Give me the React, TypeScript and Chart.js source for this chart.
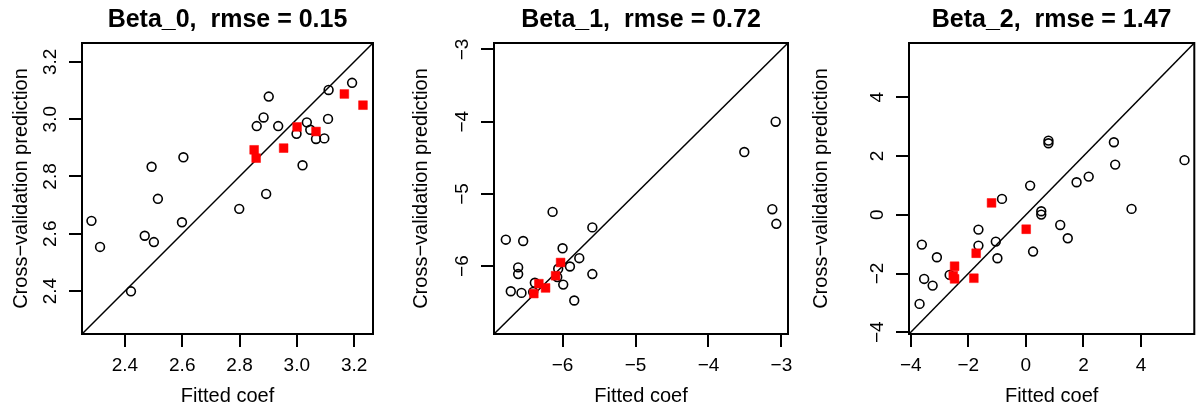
import React, { useEffect, useRef } from "react";
import { Chart, registerables } from "chart.js";
Chart.register(...registerables);

const FONT = '"Liberation Sans", Arial, Helvetica, sans-serif';

// ---------- Panel 1: Beta_0 ----------
const b0Title = "Beta_0,  rmse = 0.15";
const b0Limits = [2.25, 3.266];
const b0Ticks = [2.4, 2.6, 2.8, 3.0, 3.2];
const b0CircleFitted = [2.283, 2.313, 2.421, 2.469, 2.501, 2.493, 2.515, 2.599, 2.604, 2.799, 2.893, 2.86, 2.884, 2.902, 2.935, 2.999, 3.02, 3.035, 3.047, 3.067, 3.096, 3.109, 3.111, 3.193];
const b0CircleCv = [2.645, 2.554, 2.399, 2.593, 2.571, 2.834, 2.722, 2.64, 2.867, 2.687, 2.739, 2.976, 3.006, 3.079, 2.976, 2.949, 2.839, 2.989, 2.963, 2.931, 2.933, 3.001, 3.102, 3.127];
const b0SquareFitted = [2.851, 2.858, 2.954, 3.001, 3.067, 3.166, 3.231];
const b0SquareCv = [2.893, 2.864, 2.899, 2.973, 2.957, 3.088, 3.049];

// ---------- Panel 2: Beta_1 ----------
const b1Title = "Beta_1,  rmse = 0.72";
const b1Limits = [-6.94, -2.91];
const b1Ticks = [-6, -5, -4, -3];
const b1CircleFitted = [-6.778, -6.54, -6.609, -6.609, -6.71, -6.563, -6.403, -6.38, -6.137, -6.0, -6.06, -6.073, -5.991, -5.899, -5.771, -5.84, -5.592, -5.592, -3.509, -3.079, -3.125, -3.07];
const b1CircleCv = [-5.634, -5.652, -6.018, -6.11, -6.348, -6.371, -6.357, -6.23, -5.249, -5.753, -6.037, -6.151, -6.256, -6.005, -5.89, -6.476, -5.464, -6.11, -4.42, -4.0, -5.212, -5.414];
const b1SquareFitted = [-6.394, -6.325, -6.233, -6.096, -6.027];
const b1SquareCv = [-6.38, -6.243, -6.302, -6.133, -5.95];

// ---------- Panel 3: Beta_2 ----------
const b2Title = "Beta_2,  rmse = 1.47";
const b2Limits = [-4.06, 5.85];
const b2Ticks = [-4, -2, 0, 2, 4];
const b2CircleFitted = [-3.614, -3.534, -3.239, -3.091, -3.693, -2.648, -1.648, -1.648, -1.045, -0.989, -0.83, 0.148, 0.25, 0.534, 0.534, 0.784, 0.784, 1.193, 1.455, 1.761, 2.182, 3.057, 3.102, 3.67, 5.51];
const b2CircleCv = [-1.015, -2.185, -2.412, -1.446, -3.035, -2.048, -0.504, -1.049, -0.913, -1.48, 0.54, 0.994, -1.253, 0.12, 0.007, 2.527, 2.436, -0.347, -0.801, 1.108, 1.301, 2.47, 1.709, 0.2, 1.86];
const b2SquareFitted = [-2.477, -2.523, -2.477, -1.807, -1.727, -1.193, 0.011];
const b2SquareCv = [-1.753, -2.07, -2.184, -2.161, -1.31, 0.404, -0.493];

const xTitle = "Fitted coef";
const yTitle = "Cross\u2212validation prediction";

const fmtDecimal = (v: number) => v.toFixed(1);
const fmtInt = (v: number) => (v < 0 ? "\u2212" + Math.abs(v) : String(v));

const zip = (xs: number[], ys: number[]) => xs.map((x, i) => ({ x, y: ys[i] }));

type PanelProps = {
  title: string;
  limits: number[];
  ticks: number[];
  circleX: number[];
  circleY: number[];
  squareX: number[];
  squareY: number[];
  fmt: (v: number) => string;
  left: number;
  width: number;
  axisWidth: number;
  padRight: number;
  yTickPad: number;
};

function Panel(p: PanelProps) {
  const ref = useRef<HTMLCanvasElement>(null);
  useEffect(() => {
    const canvas = ref.current!;
    const boxFrame = {
      id: "boxFrame",
      afterDraw(chart: any) {
        const c = chart.ctx;
        const a = chart.chartArea;
        c.save();
        c.strokeStyle = "#000000";
        c.lineWidth = 2;
        c.beginPath();
        c.rect(a.left, a.top, a.right - a.left, a.bottom - a.top);
        c.stroke();
        c.restore();
      },
    };
    const chart = new Chart(canvas, {
      type: "scatter",
      data: {
        datasets: [
          {
            data: zip(p.squareX, p.squareY),
            pointStyle: "rect",
            pointRadius: 6.2,
            backgroundColor: "#ff0000",
            borderColor: "#ff0000",
            borderWidth: 0.5,
            order: 0,
          },
          {
            data: zip(p.circleX, p.circleY),
            pointStyle: "circle",
            pointRadius: 4.4,
            backgroundColor: "rgba(0,0,0,0)",
            borderColor: "#000",
            borderWidth: 1.6,
            order: 1,
          },
          {
            data: zip(p.limits, p.limits),
            showLine: true,
            pointRadius: 0,
            borderColor: "#000",
            borderWidth: 1.5,
            order: 2,
          },
        ] as any,
      },
      options: {
        animation: false,
        responsive: false,
        devicePixelRatio: 1,
        events: [],
        layout: { padding: { left: 0, right: p.padRight, top: 0, bottom: 0 } },
        plugins: {
          legend: { display: false },
          tooltip: { enabled: false },
          title: {
            display: true,
            text: p.title,
            color: "#000",
            fullSize: false,
            font: { family: FONT, size: 25, weight: "bold" },
            padding: { top: 5, bottom: 8 },
          },
        },
        scales: {
          x: {
            type: "linear",
            min: p.limits[0],
            max: p.limits[1],
            afterBuildTicks: (s: any) => {
              s.ticks = p.ticks.map((v) => ({ value: v }));
            },
            afterFit: (s: any) => {
              s.height = 76;
            },
            grid: { display: true, drawOnChartArea: false, drawTicks: true, tickLength: 13, color: "#000", lineWidth: 2 },
            border: { display: false },
            ticks: {
              color: "#000",
              font: { family: FONT, size: 19 },
              padding: 7,
              maxRotation: 0,
              autoSkip: false,
              callback: (v: any) => p.fmt(Number(v)),
            },
            title: {
              display: true,
              text: xTitle,
              color: "#000",
              font: { family: FONT, size: 20 },
              padding: { top: 0, bottom: 2 },
            },
          },
          y: {
            type: "linear",
            min: p.limits[0],
            max: p.limits[1],
            afterBuildTicks: (s: any) => {
              s.ticks = p.ticks.map((v) => ({ value: v }));
            },
            afterFit: (s: any) => {
              s.width = p.axisWidth;
            },
            grid: { display: true, drawOnChartArea: false, drawTicks: true, tickLength: 13, color: "#000", lineWidth: 2 },
            border: { display: false },
            ticks: {
              color: "#000",
              font: { family: FONT, size: 19 },
              padding: p.yTickPad,
              minRotation: 90,
              maxRotation: 90,
              crossAlign: "center",
              autoSkip: false,
              callback: (v: any) => p.fmt(Number(v)),
            },
            title: {
              display: true,
              text: yTitle,
              color: "#000",
              font: { family: FONT, size: 20 },
              padding: { top: 9, bottom: 0 },
            },
          },
        },
      } as any,
      plugins: [boxFrame],
    });
    return () => chart.destroy();
  }, []);
  return (
    <canvas
      ref={ref}
      width={p.width}
      height={410}
      style={{ position: "absolute", left: p.left, top: 0, width: p.width, height: 410 }}
    />
  );
}

export default function App() {
  return (
    <div style={{ position: "absolute", left: 0, top: 0, width: 1201, height: 410, background: "#fff", overflow: "hidden" }}>
      <Panel
        title={b0Title}
        limits={b0Limits}
        ticks={b0Ticks}
        circleX={b0CircleFitted}
        circleY={b0CircleCv}
        squareX={b0SquareFitted}
        squareY={b0SquareCv}
        fmt={fmtDecimal}
        left={0}
        width={400}
        axisWidth={82}
        padRight={27}
        yTickPad={5}
      />
      <Panel
        title={b1Title}
        limits={b1Limits}
        ticks={b1Ticks}
        circleX={b1CircleFitted}
        circleY={b1CircleCv}
        squareX={b1SquareFitted}
        squareY={b1SquareCv}
        fmt={fmtInt}
        left={400}
        width={400}
        axisWidth={94}
        padRight={12}
        yTickPad={7}
      />
      <Panel
        title={b2Title}
        limits={b2Limits}
        ticks={b2Ticks}
        circleX={b2CircleFitted}
        circleY={b2CircleCv}
        squareX={b2SquareFitted}
        squareY={b2SquareCv}
        fmt={fmtInt}
        left={800}
        width={401}
        axisWidth={109}
        padRight={1.5}
        yTickPad={7}
      />
    </div>
  );
}
